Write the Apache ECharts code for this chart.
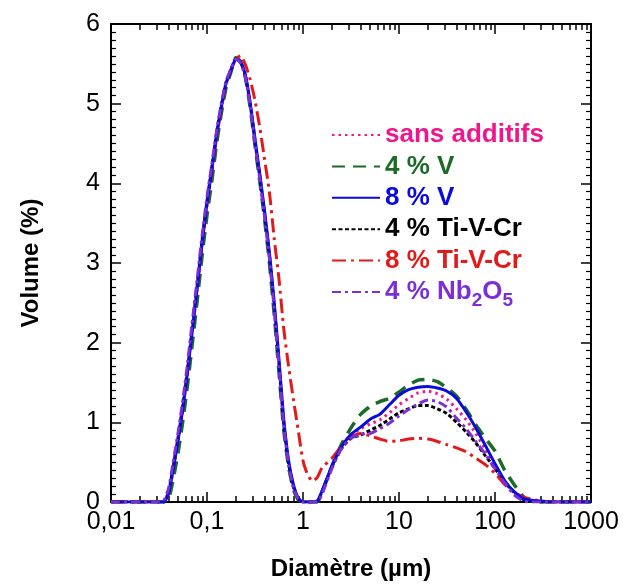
<!DOCTYPE html>
<html>
<head>
<meta charset="utf-8">
<script src="https://cdn.jsdelivr.net/npm/echarts@6/dist/echarts.min.js"></script>
<style>
html,body{margin:0;padding:0;background:#fff;}
#chart{width:624px;height:586px;}
</style>
</head>
<body>
<div id="chart"></div>
<script>
// Diameters (µm)
const diametres = [0.01,0.0316,0.0355,0.0398,0.0447,0.0501,0.0562,0.0631,0.0708,0.0794,0.0891,0.1,0.112,0.126,0.141,0.158,0.178,0.2,0.224,0.251,0.282,0.316,0.355,0.398,0.447,0.501,0.562,0.631,0.708,0.794,0.891,1.0,1.12,1.26,1.41,1.58,2.0,2.51,3.16,3.98,5.01,6.31,7.94,10,12.6,15.8,20,25.1,31.6,39.8,50.1,63.1,79.4,100,126,158,200,251,316,398,1000];

// Volume (%) per series
const sansAdditifs = [0,0,0,0.1,0.42,0.77,1.18,1.65,2.18,2.7,3.25,3.74,4.15,4.61,4.96,5.26,5.43,5.57,5.53,5.36,5.0,4.55,4.1,3.63,3.11,2.48,1.76,1.0,0.5,0.2,0.05,0,0,0,0.01,0.13,0.44,0.69,0.84,0.92,0.98,1.03,1.12,1.22,1.3,1.37,1.39,1.36,1.29,1.17,1.03,0.86,0.66,0.45,0.26,0.12,0.03,0.01,0,0,0];
const v4 = [0,0,0,0.04,0.3,0.63,1.03,1.5,2.02,2.55,3.1,3.6,4.02,4.5,4.88,5.2,5.4,5.58,5.53,5.33,4.95,4.48,4.02,3.55,3.0,2.36,1.63,0.9,0.44,0.16,0.03,0,0,0,0,0.12,0.45,0.72,0.93,1.1,1.2,1.26,1.3,1.38,1.47,1.53,1.54,1.51,1.43,1.33,1.16,0.97,0.8,0.64,0.4,0.22,0.06,0,0,0,0];
const v8 = [0,0,0,0.11,0.43,0.78,1.19,1.66,2.19,2.71,3.26,3.75,4.16,4.62,4.96,5.26,5.42,5.56,5.52,5.36,5.01,4.56,4.11,3.65,3.13,2.51,1.79,1.03,0.52,0.22,0.05,0,0,0,0.01,0.14,0.45,0.69,0.85,0.94,1.04,1.1,1.22,1.34,1.41,1.44,1.45,1.43,1.39,1.3,1.13,0.93,0.71,0.48,0.27,0.13,0.04,0.02,0.01,0,0];
const tiVCr4 = [0,0,0,0.13,0.46,0.81,1.22,1.7,2.23,2.75,3.3,3.78,4.19,4.64,4.98,5.27,5.43,5.56,5.52,5.35,4.99,4.53,4.08,3.61,3.08,2.45,1.73,0.98,0.48,0.19,0.04,0,0,0,0.01,0.13,0.44,0.67,0.8,0.84,0.9,0.96,1.04,1.12,1.17,1.21,1.21,1.17,1.11,1.0,0.88,0.74,0.58,0.42,0.25,0.12,0.03,0.01,0,0,0];
const tiVCr8 = [0,0,0,0.14,0.47,0.82,1.23,1.7,2.22,2.74,3.27,3.74,4.14,4.58,4.93,5.24,5.43,5.56,5.6,5.49,5.3,5.04,4.7,4.3,3.89,3.31,2.8,2.17,1.7,1.29,0.9,0.52,0.34,0.26,0.31,0.43,0.55,0.7,0.82,0.86,0.83,0.79,0.76,0.77,0.79,0.8,0.79,0.76,0.72,0.68,0.63,0.55,0.47,0.36,0.22,0.12,0.06,0.03,0.01,0,0];
const nb2o5 = [0,0,0.02,0.17,0.52,0.88,1.29,1.77,2.3,2.82,3.35,3.83,4.23,4.66,5.0,5.28,5.44,5.56,5.51,5.33,4.97,4.5,4.05,3.58,3.05,2.42,1.7,0.95,0.47,0.18,0.04,0,0,0,0,0.1,0.42,0.67,0.8,0.85,0.86,0.92,0.99,1.08,1.16,1.23,1.28,1.26,1.19,1.05,0.92,0.76,0.6,0.42,0.24,0.09,0.01,0,0,0,0];

// Axis ticks
const xMajorTicks = [0.01,0.1,1,10,100,1000];
const xMinorTicks = [];
[0.01,0.1,1,10,100].forEach(function(d){ for (let k=2;k<=9;k++) xMinorTicks.push(+(d*k).toPrecision(3)); });

const seriesDefs = [
  {name:'sans additifs', data:sansAdditifs, color:'#F0168C', type:[2.5,4], width:3},
  {name:'4 % V', data:v4, color:'#1B6B26', type:[13,8], width:3.5},
  {name:'4 % Ti-V-Cr', data:tiVCr4, color:'#000000', type:[4,2.5], width:3},
  {name:'8 % Ti-V-Cr', data:tiVCr8, color:'#E21A1A', type:[14,5,3,5], width:3},
  {name:'8 % V', data:v8, color:'#0A0ADC', type:'solid', width:3},
  {name:'4 % Nb2O5', data:nb2o5, color:'#7B2FD8', type:[9,4,3,4], width:3}
];
const legendOrder = ['sans additifs','4 % V','8 % V','4 % Ti-V-Cr','8 % Ti-V-Cr','4 % Nb2O5'];

const colorOf = {};
seriesDefs.forEach(function(s){ colorOf[s.name] = s.color; });

const FONT = 'Liberation Sans, Arial, sans-serif';

function logAxis(pos, opts) {
  return Object.assign({
    type:'log', logBase:10, min:0.01, max:1000, position:pos,
    axisLine:{show:true, lineStyle:{color:'#000', width:2}},
    axisTick:{show:true, inside:true, length:10, lineStyle:{color:'#000', width:1.5}},
    axisLabel:{show:false},
    splitLine:{show:false}, minorTick:{show:false}, minorSplitLine:{show:false}
  }, opts);
}
function valAxis(pos, opts) {
  return Object.assign({
    type:'value', min:0, max:6, interval:1, position:pos,
    axisLine:{show:true, lineStyle:{color:'#000', width:2}},
    axisTick:{show:true, inside:true, length:10, lineStyle:{color:'#000', width:1.5}},
    minorTick:{show:true, splitNumber:10, length:5, lineStyle:{color:'#000', width:1.2}},
    axisLabel:{show:false},
    splitLine:{show:false}
  }, opts);
}

const option = {
  animation:false,
  backgroundColor:'#fff',
  grid:{left:111, right:33, top:24, bottom:82, containLabel:false},
  xAxis:[
    logAxis('bottom', {
      axisLabel:{show:true, fontSize:25, color:'#000', fontFamily:FONT, margin:8,
        formatter:function(v){ return String(v).replace('.', ','); }},
      name:'Diamètre (µm)', nameLocation:'middle', nameGap:55,
      nameTextStyle:{fontSize:24, fontWeight:'bold', color:'#000', fontFamily:FONT}
    }),
    logAxis('bottom', {axisLine:{show:false}, axisTick:{show:true, inside:true, length:6, customValues:xMinorTicks, lineStyle:{color:'#000', width:1.5}}}),
    logAxis('top', {}),
    logAxis('top', {axisLine:{show:false}, axisTick:{show:true, inside:true, length:6, customValues:xMinorTicks, lineStyle:{color:'#000', width:1.5}}})
  ],
  yAxis:[
    valAxis('left', {
      axisLabel:{show:true, fontSize:25, color:'#000', fontFamily:FONT, margin:11},
      name:'Volume (%)', nameLocation:'middle', nameGap:68, nameRotate:90,
      nameTextStyle:{fontSize:24, fontWeight:'bold', color:'#000', fontFamily:FONT}
    }),
    valAxis('right', {})
  ],
  legend:{
    orient:'vertical', left:331, top:122, padding:0,
    itemWidth:48, itemHeight:14, itemGap:5.4,
    itemStyle:{opacity:0},
    textStyle:{fontSize:26, fontWeight:'bold', fontFamily:FONT, lineHeight:26,
      rich:{sub:{fontSize:19, fontWeight:'bold', fontFamily:FONT, color:'#7B2FD8', padding:[18,0,0,0]}}},
    formatter:function(name){ return name === '4 % Nb2O5' ? '4 % Nb{sub|2}O{sub|5}' : name; },
    data: legendOrder.map(function(n){ return {name:n, textStyle:{color:colorOf[n]}}; })
  },
  series: seriesDefs.map(function(s){
    return {
      name:s.name, type:'line', xAxisIndex:0, yAxisIndex:0,
      showSymbol:false, symbol:'none', smooth:0.2,
      color:s.color,
      lineStyle:{color:s.color, width:s.width, type:s.type, cap:'butt'},
      data: diametres.map(function(d,i){ return [d, s.data[i]]; })
    };
  })
};

const chart = echarts.init(document.getElementById('chart'), null, {renderer:'canvas'});
chart.setOption(option);
</script>
</body>
</html>
